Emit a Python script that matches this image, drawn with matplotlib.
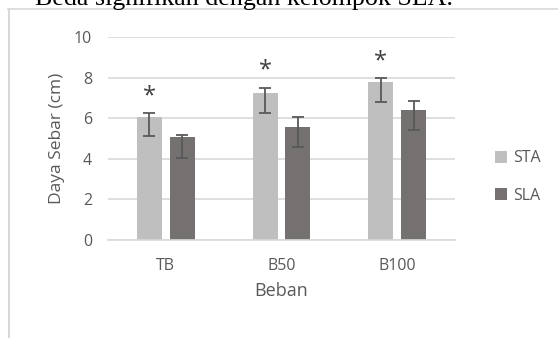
import matplotlib
matplotlib.use("Agg")
import matplotlib.pyplot as plt
from matplotlib.lines import Line2D
import numpy as np

categories = ["TB", "B50", "B100"]
series_names = ["STA", "SLA"]
sta_values = [6.07, 7.23, 7.80]
sla_values = [5.06, 5.58, 6.40]
sta_err_low = [0.97, 0.99, 1.02]
sta_err_high = [0.20, 0.27, 0.20]
sla_err_low = [1.01, 0.98, 0.98]
sla_err_high = [0.11, 0.49, 0.45]
star_levels = [7.4, 8.7, 9.15]
y_ticks = [0, 2, 4, 6, 8, 10]

W, H = 558, 338
fig = plt.figure(figsize=(W / 100, H / 100), dpi=100)
fig.patch.set_facecolor("white")

def fx(px):
    return px / W

def fy(py):
    return 1 - py / H

# caption above the chart frame
fig.text(fx(35), fy(5), "Beda signifikan dengan kelompok SLA.",
         family="Liberation Serif", fontsize=18.7, color="black",
         ha="left", va="baseline")

# chart frame (open to the right and bottom)
frame_col = "#D9D9D9"
fig.add_artist(Line2D([fx(8), fx(560)], [fy(9), fy(9)], color=frame_col, lw=1.2))
fig.add_artist(Line2D([fx(8.5), fx(8.5)], [fy(9), fy(340)], color=frame_col, lw=1.5))

ax = fig.add_axes([fx(108), fy(240), fx(455 - 108), (240 - 37) / H])
ax.set_facecolor("none")

text_col = "#595959"
font = "Open Sans"
x = np.arange(len(categories))
bw = 0.216
gap = 0.069
off = (bw + gap) / 2

ax.bar(x - off, sta_values, width=bw, color="#BFBFBF", label=series_names[0], zorder=2)
ax.bar(x + off, sla_values, width=bw, color="#767171", label=series_names[1], zorder=2)
ax.errorbar(x - off, sta_values, yerr=[sta_err_low, sta_err_high], fmt="none",
            ecolor=text_col, elinewidth=1.3, capsize=4.5, capthick=1.3, zorder=3)
ax.errorbar(x + off, sla_values, yerr=[sla_err_low, sla_err_high], fmt="none",
            ecolor=text_col, elinewidth=1.3, capsize=4.5, capthick=1.3, zorder=3)

# significance markers; the glyph sits high in its box, so shift it down a little
for xi, s in zip(x, star_levels):
    ax.annotate("*", (xi - off, s), xytext=(0, -5), textcoords="offset points",
                ha="center", va="center", fontsize=17, family=font, color="#404040")

ax.set_xlim(-0.5, len(categories) - 0.5)
ax.set_ylim(0, 10)
ax.set_yticks(y_ticks)
ax.set_yticklabels([str(t) for t in y_ticks], family=font, fontsize=11.5, color=text_col)
ax.set_xticks(x)
ax.set_xticklabels(categories, family=font, fontsize=11.5, color=text_col)
ax.tick_params(axis="both", length=0)
ax.tick_params(axis="y", pad=11.5)
ax.tick_params(axis="x", pad=13)
ax.grid(axis="y", color="#D9D9D9", lw=1.2, zorder=0)
ax.set_axisbelow(True)
for side in ["top", "right", "left"]:
    ax.spines[side].set_visible(False)
ax.spines["bottom"].set_color("#D9D9D9")
ax.spines["bottom"].set_linewidth(1.2)

ax.set_xlabel("Beban", family=font, fontsize=13, color=text_col, labelpad=6)
ax.set_ylabel("Daya Sebar (cm)", family=font, fontsize=12.5, color=text_col, labelpad=6)

leg = ax.legend(loc="center left", bbox_to_anchor=(1.075, 0.31), frameon=False,
                prop={"family": font, "size": 11.5}, handlelength=0.75, handleheight=0.75,
                handletextpad=0.35, labelspacing=1.35, labelcolor=text_col)

fig.savefig("out.png", dpi=100)
